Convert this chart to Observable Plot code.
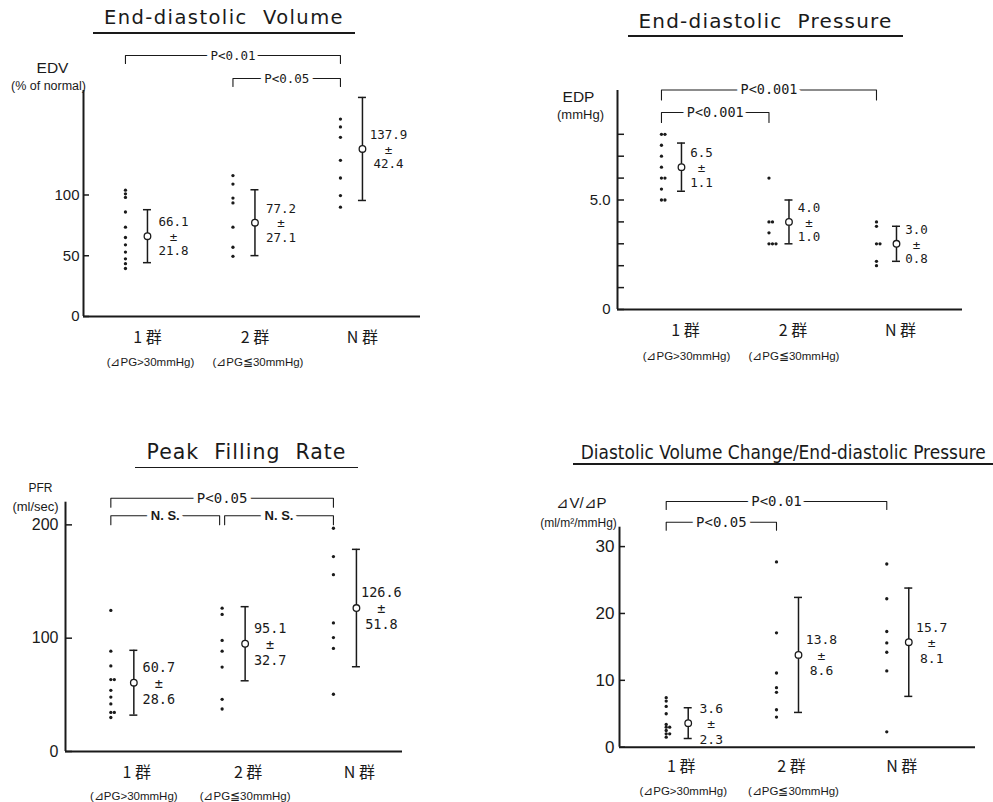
<!DOCTYPE html>
<html>
<head>
<meta charset="utf-8">
<script src="https://cdn.jsdelivr.net/npm/d3@7"></script>
<script src="https://cdn.jsdelivr.net/npm/@observablehq/plot@0.6"></script>
<style>
  html, body { margin: 0; padding: 0; background: #fff; }
  #wrap { position: relative; width: 993px; height: 802px; overflow: hidden; background: #fff; }
  .plot { position: absolute; }
  .title { position: absolute; white-space: pre; font-family: "DejaVu Sans", sans-serif; color: #1a1a1a; transform-origin: 50% 50%; }
  .uline { position: absolute; height: 1.5px; background: #1a1a1a; }
</style>
</head>
<body>
<div id="wrap"></div>
<script>
// ---------- data ----------
const groupLabels = ["1 群", "2 群", "N 群"];
const subLabels = ["(⊿PG>30mmHg)", "(⊿PG≦30mmHg)"];

// End-diastolic Volume (% of normal)
const edv1 = [104, 101, 98, 86, 73.5, 65, 59, 53, 47.5, 43.5, 39.5];
const edv2 = [116, 109, 97.5, 93.5, 73.5, 57, 49.5];
const edvN = [162.5, 156, 147.5, 128.5, 114, 99.5, 90];
const edvMean = [66.1, 77.2, 137.9];
const edvSD = [21.8, 27.1, 42.4];
const edvTicks = [0, 50, 100];
const edvTickLabels = ["0", "50", "100"];
const edvBrackets = [
  {from: 0, to: 2, label: "P<0.01"},
  {from: 1, to: 2, label: "P<0.05"}
];

// End-diastolic Pressure (mmHg)
const edp1 = [8.0, 8.0, 7.5, 7.0, 6.5, 6.0, 6.0, 5.5, 5.0, 5.0];
const edp2 = [6.0, 4.0, 4.0, 3.5, 3.0, 3.0, 3.0];
const edpN = [4.0, 3.8, 3.0, 3.0, 2.2, 2.0];
const edpMean = [6.5, 4.0, 3.0];
const edpSD = [1.1, 1.0, 0.8];
const edpTicks = [0, 1, 2, 3, 4, 5, 6, 7, 8];
const edpLabelValues = [0, 5];
const edpTickLabels = ["0", "5.0"];
const edpBrackets = [
  {from: 0, to: 2, label: "P<0.001"},
  {from: 0, to: 1, label: "P<0.001"}
];

// Peak Filling Rate (ml/sec)
const pfr1 = [124.5, 88.5, 75.5, 63.5, 63.5, 54, 48, 42, 34.5, 34.5, 30];
const pfr2 = [126.5, 121, 98, 88.5, 74.5, 46, 37.5];
const pfrN = [197, 172, 156, 113.5, 100.5, 91, 50.5];
const pfrMean = [60.7, 95.1, 126.6];
const pfrSD = [28.6, 32.7, 51.8];
const pfrTicks = [0, 100, 200];
const pfrTickLabels = ["0", "100", "200"];
const pfrBrackets = [
  {from: 0, to: 2, label: "P<0.05"},
  {from: 0, to: 1, label: "N. S."},
  {from: 1, to: 2, label: "N. S."}
];

// Diastolic Volume Change / End-diastolic Pressure (ml/m²/mmHg)
const dvdp1 = [7.4, 6.9, 6.1, 5.0, 3.4, 3.0, 3.0, 2.5, 2.0, 2.0, 1.5];
const dvdp2 = [27.7, 17.1, 11.1, 8.9, 8.2, 5.6, 4.5];
const dvdpN = [27.4, 22.2, 17.3, 15.6, 14.2, 11.4, 2.3];
const dvdpMean = [3.6, 13.8, 15.7];
const dvdpSD = [2.3, 8.6, 8.1];
const dvdpTicks = [0, 10, 20, 30];
const dvdpTickLabels = ["0", "10", "20", "30"];
const dvdpBrackets = [
  {from: 0, to: 2, label: "P<0.01"},
  {from: 0, to: 1, label: "P<0.05"}
];

// ---------- layout / style ----------
const INK = "#1a1a1a";
const SANS = '"Liberation Sans", Arial, sans-serif';
const MONO = '"DejaVu Sans Mono", monospace';
const CJK = '"Noto Sans CJK JP", "Noto Sans", sans-serif';

const panels = [
  {
    title: "End-diastolic  Volume", tBox: {x1: 93, x2: 355, line: 32, base: 25, w: 240, size: 19.5},
    yName: "EDV", yUnit: "(% of normal)", yNamePos: [52, 61], yUnitPos: [48, 81], yNameSize: 15.5, yUnitSize: 12.5,
    values: [edv1, edv2, edvN], mean: edvMean, sd: edvSD,
    ticks: edvTicks, labelValues: edvTicks, labelTexts: edvTickLabels, brackets: edvBrackets,
    box: {left: 0, top: 0, width: 496, height: 401}, frame: {left: 83, top: 90, right: 420, bottom: 316},
    xDomain: [-0.595, 2.54], yMax: 186,
    rows: [55, 78], drop: 8, dotOffset: 22, tickLen: 6, tickGap: 4, tickSize: 15,
    groupDx: 0, groupDy: 21, subDx: 3, subDy: 46, pSize: 12.5, meanDx: 26, meanSize: 12.5, meanLH: 1.15
  },
  {
    title: "End-diastolic  Pressure", tBox: {x1: 628, x2: 903, line: 35, base: 28.3, w: 254, size: 20},
    yName: "EDP", yUnit: "(mmHg)", yNamePos: [578, 90], yUnitPos: [580, 109], yNameSize: 15.5, yUnitSize: 13,
    values: [edp1, edp2, edpN], mean: edpMean, sd: edpSD,
    ticks: edpTicks, labelValues: edpLabelValues, labelTexts: edpTickLabels, brackets: edpBrackets,
    box: {left: 496, top: 0, width: 497, height: 401}, frame: {left: 617, top: 90, right: 962, bottom: 309},
    xDomain: [-0.595, 2.614], yMax: 10,
    rows: [89.5, 112], drop: 10, dotOffset: 20, tickLen: 7, tickGap: 7, tickSize: 15,
    groupDx: 4, groupDy: 21, subDx: 5, subDy: 47, pSize: 13.5, meanDx: 20, meanSize: 12.5, meanLH: 1.18
  },
  {
    title: "Peak  Filling  Rate", tBox: {x1: 135, x2: 358, line: 466.5, base: 460, w: 200, size: 20.5},
    yName: "PFR", yUnit: "(ml/sec)", yNamePos: [40, 483], yUnitPos: [35, 501], yNameSize: 12, yUnitSize: 13,
    values: [pfr1, pfr2, pfrN], mean: pfrMean, sd: pfrSD,
    ticks: pfrTicks, labelValues: pfrTicks, labelTexts: pfrTickLabels, brackets: pfrBrackets,
    box: {left: 0, top: 401, width: 496, height: 401}, frame: {left: 65, top: 501.7, right: 402, bottom: 751},
    xDomain: [-0.614, 2.414], yMax: 220,
    rows: [497.7, 515.3], drop: 9, dotOffset: 23, tickLen: 7, tickGap: 7, tickSize: 16,
    groupDx: 3, groupDy: 21, subDx: 0, subDy: 45, pSize: 14, meanDx: 25, meanSize: 13.5, meanLH: 1.2
  },
  {
    title: "Diastolic Volume Change/End-diastolic Pressure", tBox: {x1: 573, x2: 993, line: 463, base: 459.3, w: 405, size: 19},
    yName: "⊿V/⊿P", yUnit: "(ml/m²/mmHg)", yNamePos: [581, 497], yUnitPos: [578, 518], yNameSize: 15, yUnitSize: 12,
    values: [dvdp1, dvdp2, dvdpN], mean: dvdpMean, sd: dvdpSD,
    ticks: dvdpTicks, labelValues: dvdpTicks, labelTexts: dvdpTickLabels, brackets: dvdpBrackets,
    box: {left: 496, top: 401, width: 497, height: 401}, frame: {left: 619, top: 526.7, right: 975, bottom: 746.7},
    xDomain: [-0.623, 2.605], yMax: 32.9,
    rows: [501, 521.7], drop: 8, dotOffset: 22, tickLen: 6, tickGap: 5, tickSize: 17,
    groupDx: -7, groupDy: 20, subDx: -5, subDy: 44, pSize: 14, meanDx: 23, meanSize: 13, meanLH: 1.2
  }
];

const wrap = document.getElementById("wrap");

function buildPanel(p) {
  const {box, frame} = p;
  const ml = frame.left - box.left, mt = frame.top - box.top;
  const mr = box.left + box.width - frame.right, mb = box.top + box.height - frame.bottom;
  const [xa, xb] = p.xDomain;
  const ux = (xb - xa) / (frame.right - frame.left);   // x data units per pixel
  const uy = p.yMax / (frame.bottom - frame.top);      // y data units per pixel
  const yAtPx = py => (frame.bottom - py) * uy;
  const dotX = -p.dotOffset * ux;

  // individual points; equal values in a group are set side by side
  const pts = p.values.flatMap((arr, g) => {
    const seen = new Map();
    return arr.map(v => { const k = seen.get(v) || 0; seen.set(v, k + 1); return {g, v, k}; });
  });
  const stats = groupLabels.map((name, g) => ({g, m: p.mean[g], s: p.sd[g]}));

  // significance brackets
  const br = p.brackets.map(b => ({...b, row: b.to - b.from > 1 ? 0 : 1}));
  const brLines = [];
  br.forEach((b, i) => {
    const shareStart = br.some((o, j) => j !== i && o.row === b.row && o.to === b.from);
    const shareEnd = br.some((o, j) => j !== i && o.row === b.row && o.from === b.to);
    const xs = b.from + dotX + (shareStart ? 2.5 * ux : 0);
    const xe = b.to + dotX - (shareEnd ? 2.5 * ux : 0);
    const yl = yAtPx(p.rows[b.row]);
    const yd = yAtPx(p.rows[b.row] + p.drop);
    b.xm = (xs + xe) / 2; b.y = yl;
    brLines.push({id: i, x: xs, y: yd}, {id: i, x: xs, y: yl}, {id: i, x: xe, y: yl}, {id: i, x: xe, y: yd});
  });
  const brP = br.filter(b => !b.label.startsWith("N"));
  const brNS = br.filter(b => b.label.startsWith("N"));

  const chart = Plot.plot({
    width: box.width, height: box.height,
    marginLeft: ml, marginRight: mr, marginTop: mt, marginBottom: mb,
    x: {domain: p.xDomain, axis: null},
    y: {domain: [0, p.yMax], axis: null},
    style: {background: "transparent", overflow: "visible"},
    marks: [
      // axes
      Plot.ruleX([xa], {stroke: INK, strokeWidth: 2}),
      Plot.ruleY([0], {stroke: INK, strokeWidth: 2}),
      Plot.ruleY(p.ticks, {x1: xa, x2: xa + p.tickLen * ux, stroke: INK, strokeWidth: 1.5}),
      Plot.text(p.labelValues, {x: xa, y: d => d, text: (d, i) => p.labelTexts[i], textAnchor: "end", dx: -p.tickGap,
        fontSize: p.tickSize, fontFamily: SANS, fill: INK}),
      Plot.text(groupLabels, {x: (d, i) => i, y: 0, dx: p.groupDx, dy: p.groupDy, text: d => d,
        fontSize: 16, fontFamily: CJK, fill: INK}),
      Plot.text(subLabels, {x: (d, i) => i, y: 0, dx: p.subDx, dy: p.subDy, text: d => d,
        fontSize: 11.5, fontFamily: SANS, fill: INK}),
      Plot.text([p.yName], {frameAnchor: "top-left", textAnchor: "middle",
        dx: p.yNamePos[0] - frame.left, dy: p.yNamePos[1] - frame.top,
        text: d => d, fontSize: p.yNameSize, fontFamily: SANS, fill: INK}),
      Plot.text([p.yUnit], {frameAnchor: "top-left", textAnchor: "middle",
        dx: p.yUnitPos[0] - frame.left, dy: p.yUnitPos[1] - frame.top,
        text: d => d, fontSize: p.yUnitSize, fontFamily: SANS, fill: INK}),
      // brackets
      Plot.line(brLines, {x: "x", y: "y", z: "id", stroke: INK, strokeWidth: 1.1}),
      Plot.text(brP, {x: "xm", y: "y", text: "label", fill: INK, stroke: "white", strokeWidth: 9, paintOrder: "stroke",
        fontFamily: MONO, fontSize: p.pSize}),
      Plot.text(brNS, {x: "xm", y: "y", text: "label", fill: INK, stroke: "white", strokeWidth: 9, paintOrder: "stroke",
        fontFamily: SANS, fontWeight: "bold", fontSize: 13}),
      // individual values
      Plot.dot(pts, {x: d => d.g + dotX + d.k * 3.5 * ux, y: "v", r: 1.65, fill: INK}),
      // mean ± SD
      Plot.ruleX(stats, {x: "g", y1: d => d.m - d.s, y2: d => d.m + d.s, stroke: INK, strokeWidth: 1.5}),
      Plot.ruleY(stats, {y: d => d.m + d.s, x1: d => d.g - 4 * ux, x2: d => d.g + 4 * ux, stroke: INK, strokeWidth: 1.5}),
      Plot.ruleY(stats, {y: d => d.m - d.s, x1: d => d.g - 4 * ux, x2: d => d.g + 4 * ux, stroke: INK, strokeWidth: 1.5}),
      Plot.dot(stats, {x: "g", y: "m", r: 3.3, fill: "white", stroke: INK, strokeWidth: 1.3}),
      Plot.text(stats, {x: d => d.g + p.meanDx * ux, y: "m", text: d => `${d.m.toFixed(1)}\n±\n${d.s.toFixed(1)}`,
        lineHeight: p.meanLH, fontFamily: MONO, fontSize: p.meanSize, fill: INK})
    ]
  });
  chart.classList.add("plot");
  chart.style.left = box.left + "px";
  chart.style.top = box.top + "px";
  wrap.appendChild(chart);

  // title with underline
  const t = p.tBox;
  const title = document.createElement("div");
  title.className = "title";
  title.textContent = p.title;
  title.style.fontSize = t.size + "px";
  title.style.lineHeight = t.size + "px";
  wrap.appendChild(title);
  const natural = title.getBoundingClientRect().width;
  const n = p.title.length;
  if (natural < t.w) {
    title.style.letterSpacing = ((t.w - natural) / n) + "px";
  }
  const w1 = title.getBoundingClientRect().width;
  const cx = (t.x1 + t.x2) / 2;
  title.style.left = (cx - w1 / 2) + "px";
  title.style.top = (t.base - 0.86 * t.size) + "px";
  if (w1 > t.w) title.style.transform = `scaleX(${t.w / w1})`;
  const ul = document.createElement("div");
  ul.className = "uline";
  ul.style.left = t.x1 + "px";
  ul.style.width = (t.x2 - t.x1) + "px";
  ul.style.top = t.line + "px";
  wrap.appendChild(ul);
}

panels.forEach(buildPanel);
</script>
</body>
</html>
